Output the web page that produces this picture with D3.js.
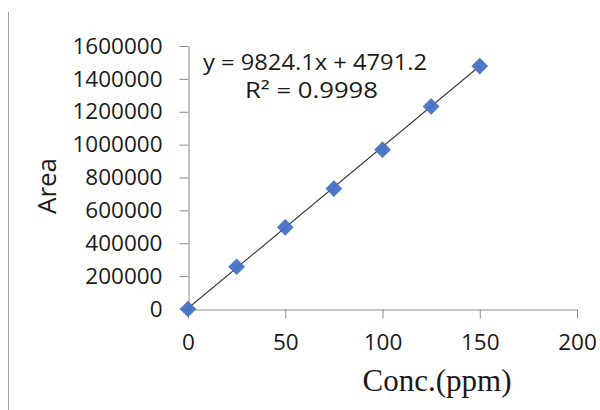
<!DOCTYPE html>
<html><head><meta charset="utf-8">
<script src="https://cdn.jsdelivr.net/npm/d3@7"></script>
<style>body{margin:0;background:#fff}svg{display:block}</style>
</head><body>
<svg id="c" width="600" height="410"></svg>
<script>
const concs = [0, 25, 50, 75, 100, 125, 150];
const areas = [0, 257000, 497000, 733000, 969000, 1232000, 1478000];
const xTicks = [0, 50, 100, 150, 200];
const yTicks = [0, 200000, 400000, 600000, 800000, 1000000, 1200000, 1400000, 1600000];
const slope = 9824.1, intercept = 4791.2;
const eqText = "y = 9824.1x + 4791.2";
const r2Text = "R² = 0.9998";

const svg = d3.select("#c");
const x = d3.scaleLinear().domain([0, 200]).range([188, 577]);
const y = d3.scaleLinear().domain([0, 1600000]).range([309, 46]);
const axisCol = "#8c8c8c";
const sans = "Open Sans, sans-serif";

// left border line
svg.append("line").attr("x1", 8.5).attr("x2", 8.5).attr("y1", 12).attr("y2", 410)
  .attr("stroke", "#a0a0a0").attr("stroke-width", 1);

const gy = svg.append("g").attr("transform", "translate(188.5,0)")
  .call(d3.axisLeft(y).tickValues(yTicks).tickFormat(d3.format("d")).tickSizeOuter(0).tickSizeInner(9).tickPadding(17));
gy.select(".domain").attr("stroke", axisCol);
gy.selectAll(".tick line").attr("stroke", axisCol);
gy.selectAll(".tick text").attr("font-family", sans).attr("font-size", 22.5).attr("fill", "#1a1a1a");

const gx = svg.append("g").attr("transform", "translate(0,309.5)")
  .call(d3.axisBottom(x).tickValues(xTicks).tickSizeOuter(0).tickSizeInner(9).tickPadding(16));
gx.select(".domain").attr("stroke", axisCol);
gx.selectAll(".tick line").attr("stroke", axisCol);
gx.selectAll(".tick text").attr("font-family", sans).attr("font-size", 22.5).attr("fill", "#1a1a1a");

// trendline
svg.append("line")
  .attr("x1", x(0)).attr("y1", y(intercept))
  .attr("x2", x(150)).attr("y2", y(slope * 150 + intercept))
  .attr("stroke", "#3a3a3a").attr("stroke-width", 1.1);

// markers
svg.append("g").selectAll("path").data(concs).join("path")
  .attr("d", d3.symbol().type(d3.symbolSquare).size(140))
  .attr("transform", (d, i) => `translate(${x(d)},${y(areas[i])}) rotate(45)`)
  .attr("fill", "#4472c4").attr("opacity", 0.95);

// equation
svg.append("text").attr("x", 203).attr("y", 70)
  .attr("textLength", 224).attr("lengthAdjust", "spacingAndGlyphs")
  .attr("font-family", sans).attr("font-size", 21).attr("fill", "#1a1a1a").text(eqText);
svg.append("text").attr("x", 245).attr("y", 98)
  .attr("textLength", 133).attr("lengthAdjust", "spacingAndGlyphs")
  .attr("font-family", sans).attr("font-size", 21).attr("fill", "#1a1a1a").text(r2Text);

// axis titles
svg.append("text").attr("transform", "translate(56,186) rotate(-90)").attr("text-anchor", "middle")
  .attr("font-family", sans).attr("font-size", 26).attr("fill", "#1a1a1a").text("Area");
svg.append("text").attr("x", 437).attr("y", 391).attr("text-anchor", "middle")
  .attr("font-family", "Liberation Serif, serif").attr("font-size", 31).attr("fill", "#1a1a1a").text("Conc.(ppm)");
</script>
</body></html>
